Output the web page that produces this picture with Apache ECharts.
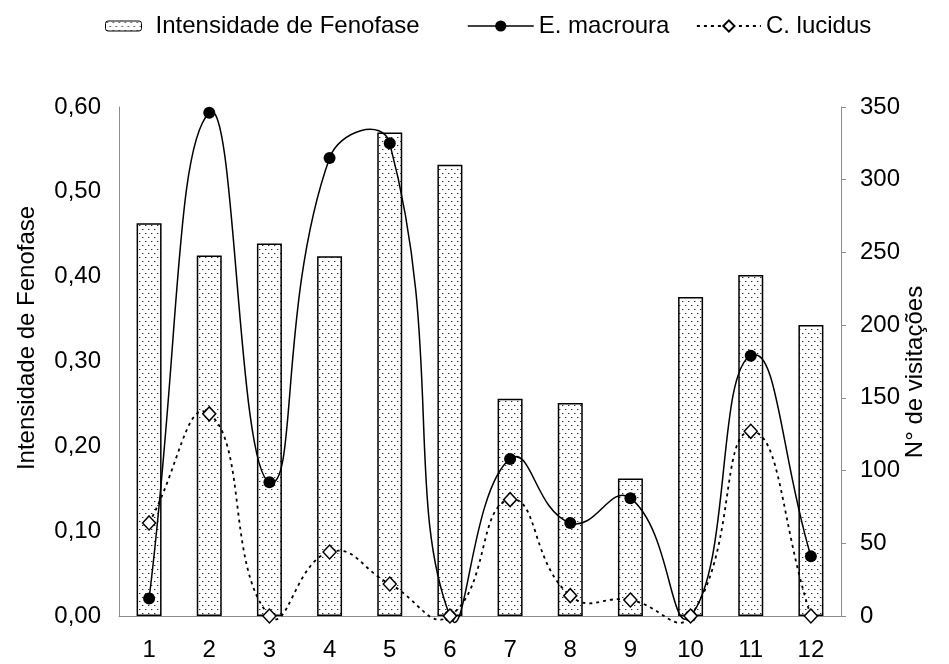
<!DOCTYPE html>
<html><head><meta charset="utf-8">
<script src="https://cdn.jsdelivr.net/npm/echarts@6/dist/echarts.min.js"></script>
<style>html,body{margin:0;padding:0;background:#fff}#c{width:949px;height:664px}</style>
</head><body><div id="c"></div>
<script>
// ---- data ----
const categories = ['1','2','3','4','5','6','7','8','9','10','11','12'];
const intensidade = [0.463,0.425,0.439,0.424,0.570,0.532,0.256,0.251,0.162,0.376,0.402,0.343];
const macroura = [12,346,92,315,325,0,108,64,81,0,179,41];
const lucidus = [64,139,0,44,22,0,80,14,11,0,127,0];
const leftAxis = {min:0, max:0.6, interval:0.1};
const rightAxis = {min:0, max:350, interval:50};
const names = ['Intensidade de Fenofase','E. macroura','C. lucidus'];
const yTitles = ['Intensidade de Fenofase','N° de visitações'];

const FONT = 'Liberation Sans, Arial, sans-serif';
const AXIS_GRAY = '#8c8c8c';

// dotted pattern fill
const pc = document.createElement('canvas'); pc.width = 6; pc.height = 8;
const g = pc.getContext('2d');
g.fillStyle = '#ffffff'; g.fillRect(0,0,6,8);
g.fillStyle = '#2a2a2a'; g.fillRect(1,1,1,1); g.fillRect(4,5,1,1);
g.fillStyle = '#b0b0b0'; g.fillRect(2,1,1,1); g.fillRect(5,5,1,1);
const pattern = {image: pc, repeat: 'repeat'};

const S = 0.5;
function makeCurve(vals, dash, width){
  return function(params, api){
    const n = vals.length, i = params.dataIndex;
    if (i >= n-1) return {type:'group', children:[]};
    const pt = k => { k = Math.max(0, Math.min(n-1, k)); return api.coord([k, vals[k]]); };
    const ctrl = j => {
      const p = pt(j), a = pt(j-1), b = pt(j+1);
      const vx = b[0]-a[0], vy = b[1]-a[1];
      const l0 = Math.hypot(p[0]-a[0], p[1]-a[1]);
      const l1 = Math.hypot(b[0]-p[0], b[1]-p[1]);
      const r = (l0+l1) ? l1/(l0+l1) : 0.5;
      return {out:[p[0]+vx*S*r, p[1]+vy*S*r], inn:[p[0]-vx*S*(1-r), p[1]-vy*S*(1-r)]};
    };
    const p1 = pt(i), p2 = pt(i+1), c1 = ctrl(i).out, c2 = ctrl(i+1).inn;
    return {
      type:'bezierCurve',
      shape:{x1:p1[0], y1:p1[1], x2:p2[0], y2:p2[1], cpx1:c1[0], cpy1:c1[1], cpx2:c2[0], cpy2:c2[1]},
      style:{stroke:'#000', lineWidth:width, fill:null, lineDash:dash}
    };
  };
}

const chart = echarts.init(document.getElementById('c'), null, {renderer:'canvas'});
const legendText = {fontSize:24, fontFamily:FONT, color:'#000'};
chart.setOption({
  animation:false,
  backgroundColor:'#fff',
  textStyle:{fontFamily:FONT},
  grid:{left:119, right:108, top:107, bottom:48, containLabel:false},
  legend:[
    {left:100, top:9, itemWidth:36, itemHeight:10, textStyle:Object.assign({padding:[0,0,0,9]}, legendText),
      data:[{name:names[0], itemStyle:{borderWidth:1, borderColor:'#000'}}], selectedMode:false},
    {left:462, top:9, itemWidth:66, itemHeight:14, textStyle:legendText, selectedMode:false,
      data:[{name:names[1], lineStyle:{opacity:1, width:1.5, color:'#000', type:'solid'}}]},
    {left:691, top:9, itemWidth:64, itemHeight:14, textStyle:legendText, selectedMode:false,
      data:[{name:names[2], lineStyle:{opacity:1, width:1.8, color:'#000', type:[3,4]}}]}
  ],
  xAxis:{type:'category', data:categories, boundaryGap:true,
    axisLine:{lineStyle:{color:AXIS_GRAY, width:1}}, axisTick:{show:false},
    axisLabel:{fontSize:24, color:'#000', margin:22, fontFamily:FONT}},
  yAxis:[
    {type:'value', min:leftAxis.min, max:leftAxis.max, interval:leftAxis.interval, position:'left',
      axisLine:{show:true, lineStyle:{color:AXIS_GRAY, width:1}}, axisTick:{show:false}, splitLine:{show:false},
      axisLabel:{fontSize:24, color:'#000', margin:18, fontFamily:FONT, formatter:v => v.toFixed(2).replace('.', ',')}},
    {type:'value', min:rightAxis.min, max:rightAxis.max, interval:rightAxis.interval, position:'right',
      axisLine:{show:true, lineStyle:{color:AXIS_GRAY, width:1}}, axisTick:{show:true, inside:false, length:5, lineStyle:{color:AXIS_GRAY}},
      splitLine:{show:false},
      axisLabel:{fontSize:24, color:'#000', margin:19, fontFamily:FONT}}
  ],
  graphic:[
    {type:'text', x:27, y:338, rotation:Math.PI/2, style:{text:yTitles[0], font:'24px ' + FONT, fill:'#000', align:'center', verticalAlign:'middle'}},
    {type:'text', x:915, y:372, rotation:Math.PI/2, style:{text:yTitles[1], font:'24px ' + FONT, fill:'#000', align:'center', verticalAlign:'middle'}}
  ],
  series:[
    {name:names[0], type:'bar', data:intensidade, yAxisIndex:0, barWidth:25, z:1,
      itemStyle:{color:pattern, borderColor:'#000', borderWidth:1.5}},
    {name:'curve-macroura', type:'custom', yAxisIndex:1, z:3, silent:true,
      data:macroura.map((v,i)=>[i,v]), encode:{x:0, y:1}, renderItem:makeCurve(macroura, null, 1.5)},
    {name:'curve-lucidus', type:'custom', yAxisIndex:1, z:3, silent:true,
      data:lucidus.map((v,i)=>[i,v]), encode:{x:0, y:1}, renderItem:makeCurve(lucidus, [3,4], 1.8)},
    {name:names[1], type:'line', yAxisIndex:1, data:macroura, z:5, symbol:'circle', symbolSize:12,
      itemStyle:{color:'#000'}, lineStyle:{opacity:0}},
    {name:names[2], type:'line', yAxisIndex:1, data:lucidus, z:6, symbol:'diamond', symbolSize:[13,14],
      itemStyle:{color:'#fff', borderColor:'#000', borderWidth:1.5}, lineStyle:{opacity:0}}
  ]
});
</script></body></html>
